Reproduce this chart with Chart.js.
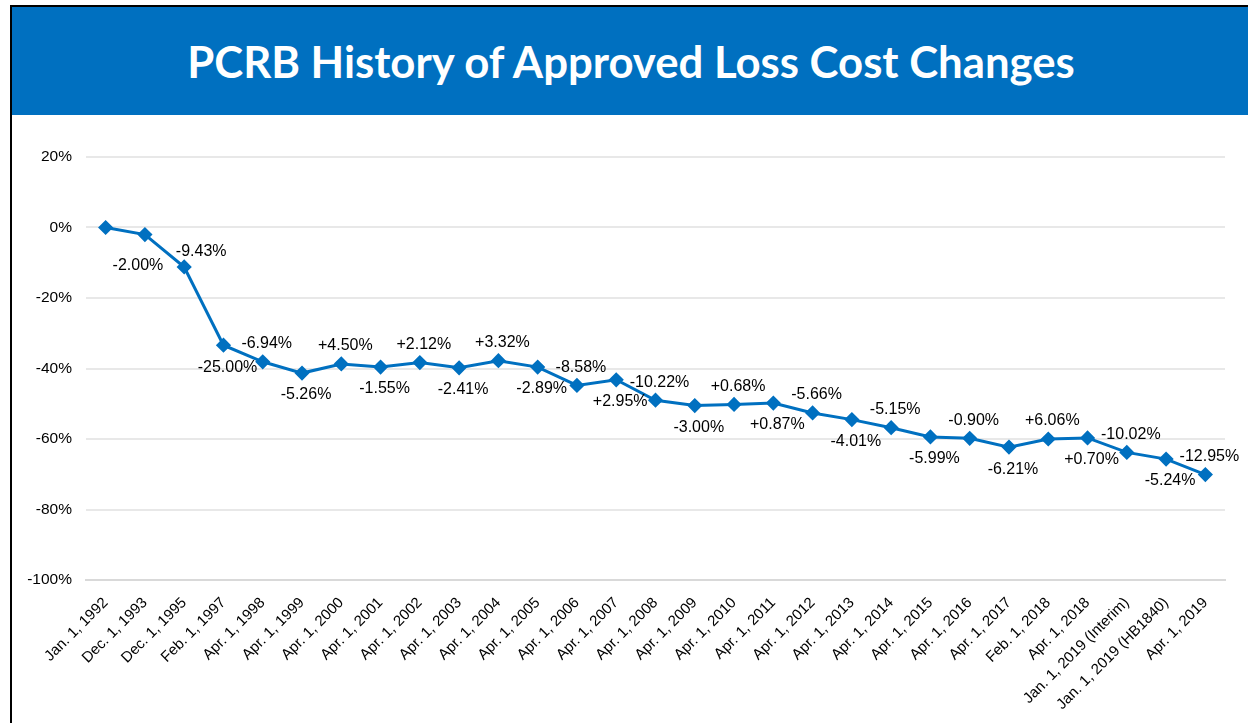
<!DOCTYPE html>
<html>
<head>
<meta charset="utf-8">
<script src="https://cdn.jsdelivr.net/npm/chart.js@4.4.0/dist/chart.umd.min.js"></script>
<style>
  body { margin: 0; background: #fff; width: 1248px; height: 723px; overflow: hidden; }
  #frame { position: absolute; left: 10px; top: 5px; width: 1238px; height: 718px;
           border-top: 2px solid #000; border-left: 2px solid #000; }
  #banner { position: absolute; left: 0; top: 0; width: 1238px; height: 108px; background: #0070C0;
            color: #fff; font-family: Lato, sans-serif; font-weight: bold; font-size: 43.7px;
            display: flex; align-items: center; justify-content: center; }
  #wrap { position: absolute; left: 0; top: 108px; width: 1236px; height: 608px; }
</style>
</head>
<body>
<div id="frame">
  <div id="banner">PCRB History of Approved Loss Cost Changes</div>
  <div id="wrap"><canvas id="chart"></canvas></div>
</div>
<script>
// effective dates
var dates = ["Jan. 1, 1992", "Dec. 1, 1993", "Dec. 1, 1995", "Feb. 1, 1997", "Apr. 1, 1998",
  "Apr. 1, 1999", "Apr. 1, 2000", "Apr. 1, 2001", "Apr. 1, 2002", "Apr. 1, 2003", "Apr. 1, 2004",
  "Apr. 1, 2005", "Apr. 1, 2006", "Apr. 1, 2007", "Apr. 1, 2008", "Apr. 1, 2009", "Apr. 1, 2010",
  "Apr. 1, 2011", "Apr. 1, 2012", "Apr. 1, 2013", "Apr. 1, 2014", "Apr. 1, 2015", "Apr. 1, 2016",
  "Apr. 1, 2017", "Feb. 1, 2018", "Apr. 1, 2018", "Jan. 1, 2019 (Interim)", "Jan. 1, 2019 (HB1840)",
  "Apr. 1, 2019"];

// cumulative change since 1992 (%)
var cumulative = [0, -2.0, -11.2, -33.4, -38.1, -41.3, -38.7, -39.6, -38.3, -39.8, -37.8, -39.6,
  -44.8, -43.2, -49.0, -50.5, -50.2, -49.8, -52.6, -54.5, -56.8, -59.4, -59.8, -62.3, -60.0,
  -59.7, -63.8, -65.7, -70.1];

// approved change at each filing (%)
var changes = [null, -2.00, -9.43, -25.00, -6.94, -5.26, 4.50, -1.55, 2.12, -2.41, 3.32, -2.89,
  -8.58, 2.95, -10.22, -3.00, 0.68, 0.87, -5.66, -4.01, -5.15, -5.99, -0.90, -6.21, 6.06, 0.70,
  -10.02, -5.24, -12.95];

var yTicks = [20, 0, -20, -40, -60, -80, -100];

var blue = "#0070C0";

var changeLabels = {
  id: "changeLabels",
  afterDatasetsDraw: function(chart) {
    var ctx = chart.ctx;
    var pts = chart.getDatasetMeta(0).data;
    ctx.save();
    ctx.font = "16px 'Liberation Sans', Arial, sans-serif";
    ctx.fillStyle = "#000";
    ctx.textAlign = "center";
    ctx.textBaseline = "middle";
    for (var i = 1; i < pts.length; i++) {
      var v = changes[i];
      var txt = (v > 0 ? "+" : "") + v.toFixed(2) + "%";
      var dx = 4, dy = i % 2 == 0 ? -18 : 22;
      if (i == 1) { dx = -7; dy = 31; }
      if (i == 2) { dx = 17; dy = -15; }
      ctx.fillText(txt, pts[i].x + dx, pts[i].y + dy);
    }
    ctx.restore();
  }
};

new Chart(document.getElementById("chart"), {
  type: "line",
  data: {
    labels: dates,
    datasets: [{
      data: cumulative,
      borderColor: blue,
      backgroundColor: blue,
      borderWidth: 3,
      pointStyle: "rectRot",
      pointRadius: 5.5,
      tension: 0
    }]
  },
  options: {
    responsive: true,
    maintainAspectRatio: false,
    animation: false,
    layout: { padding: { top: 42, right: 23, left: 0, bottom: 0 } },
    plugins: { legend: { display: false }, tooltip: { enabled: false } },
    scales: {
      x: {
        offset: true,
        grid: { display: false, drawTicks: false },
        border: { display: true, color: "#d9d9d9", width: 2 },
        ticks: {
          autoSkip: false, maxRotation: 45, minRotation: 45, padding: 14,
          color: "#000", font: { family: "'Liberation Sans', Arial", size: 15 }
        },
        afterFit: function(s) { s.height = 143; }
      },
      y: {
        min: -100, max: 20,
        grid: { color: "#e8e8e8", lineWidth: 2, drawTicks: false },
        border: { display: false },
        afterBuildTicks: function(s) { s.ticks = yTicks.map(function(v) { return { value: v }; }); },
        ticks: {
          padding: 14, color: "#000",
          font: { family: "'Liberation Sans', Arial", size: 15.5 },
          callback: function(v) { return v + "%"; }
        },
        afterFit: function(s) { s.width = 74; }
      }
    }
  },
  plugins: [changeLabels]
});
</script>
</body>
</html>
